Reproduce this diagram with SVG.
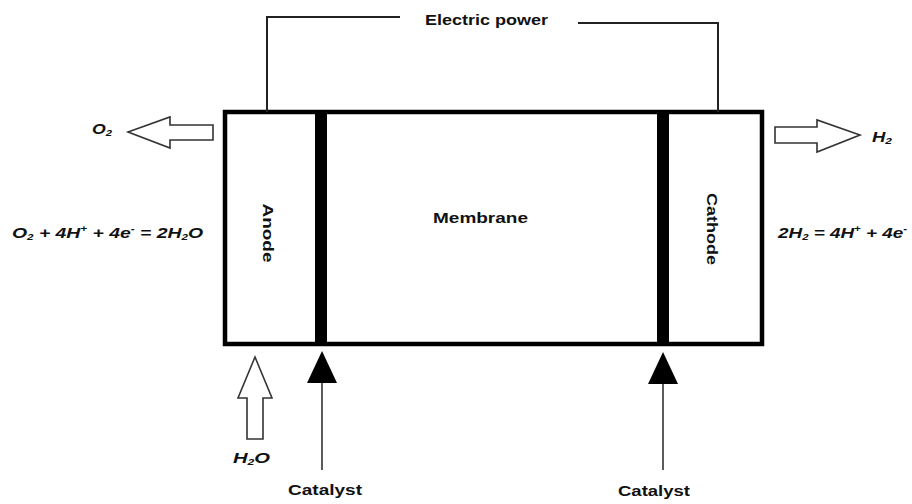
<svg xmlns="http://www.w3.org/2000/svg" width="912" height="504" viewBox="0 0 912 504">
<defs>
<style>
.t{font-family:"Liberation Sans",Arial,sans-serif;font-weight:bold;fill:#111;}
.i{font-style:italic;}
.w{fill:none;stroke:#222;stroke-width:2;}
.h{fill:#fff;stroke:#333;stroke-width:1.6;stroke-linejoin:miter;}
.c{fill:none;stroke:#333;stroke-width:1.6;}
.sub{font-size:9px;}
</style>
</defs>
<rect width="912" height="504" fill="#fff"/>
<g id="cell">
<rect x="225" y="112" width="537" height="232" fill="#fff" stroke="#000" stroke-width="4.5"/>
</g>
<g id="anode">
<text class="t" font-size="15" transform="translate(268,233) rotate(90)" x="0" y="5.5" text-anchor="middle" textLength="59" lengthAdjust="spacingAndGlyphs">Anode</text>
</g>
<g id="anode-catalyst-layer">
<rect x="315" y="112" width="12" height="232" fill="#000"/>
</g>
<g id="membrane">
<text class="t" font-size="15" x="433" y="223" textLength="95" lengthAdjust="spacingAndGlyphs">Membrane</text>
</g>
<g id="cathode-catalyst-layer">
<rect x="657" y="112" width="12" height="232" fill="#000"/>
</g>
<g id="cathode">
<text class="t" font-size="15" transform="translate(712,229) rotate(90)" x="0" y="5.5" text-anchor="middle" textLength="72" lengthAdjust="spacingAndGlyphs">Cathode</text>
</g>
<g id="electric-power">
<text class="t" font-size="15" x="425" y="25" textLength="123" lengthAdjust="spacingAndGlyphs">Electric power</text>
</g>
<g id="o2-label">
<text class="t i" font-size="14" x="92" y="134" textLength="20" lengthAdjust="spacingAndGlyphs">O<tspan class="sub" dy="2">2</tspan></text>
</g>
<g id="anode-equation">
<text class="t i" font-size="15" x="12" y="238" textLength="191" lengthAdjust="spacingAndGlyphs">O<tspan class="sub" dy="2">2</tspan><tspan dy="-2"> + 4H</tspan><tspan class="sub" dy="-6">+</tspan><tspan dy="6"> + 4e</tspan><tspan class="sub" dy="-6">-</tspan><tspan dy="6"> = 2H</tspan><tspan class="sub" dy="2">2</tspan><tspan dy="-2">O</tspan></text>
</g>
<g id="h2-label">
<text class="t i" font-size="14" x="872" y="142" textLength="20" lengthAdjust="spacingAndGlyphs">H<tspan class="sub" dy="2">2</tspan></text>
</g>
<g id="cathode-equation">
<text class="t i" font-size="15" x="778" y="238" textLength="129" lengthAdjust="spacingAndGlyphs">2H<tspan class="sub" dy="2">2</tspan><tspan dy="-2"> = 4H</tspan><tspan class="sub" dy="-6">+</tspan><tspan dy="6"> + 4e</tspan><tspan class="sub" dy="-6">-</tspan></text>
</g>
<g id="h2o-label">
<text class="t i" font-size="15" x="233" y="463" textLength="37" lengthAdjust="spacingAndGlyphs">H<tspan class="sub" dy="2">2</tspan><tspan dy="-2">O</tspan></text>
</g>
<g id="catalyst-left">
<text class="t" font-size="15" x="288" y="495" textLength="74" lengthAdjust="spacingAndGlyphs">Catalyst</text>
</g>
<g id="catalyst-right">
<text class="t" font-size="15" x="618" y="496" textLength="72" lengthAdjust="spacingAndGlyphs">Catalyst</text>
</g>
<g id="connectors">
<polyline class="w" points="267,112 267,17 400,17"/>
<polyline class="w" points="578,23 718,23 718,112"/>
<polygon class="h" points="213,125 170,125 170,117 128,132 170,148 170,140 213,140"/>
<polygon class="h" points="775,127 817,127 817,120 860,135 817,152 817,143 775,143"/>
<polygon class="h" points="247,439 247,398 238,398 255,357 272,398 263,398 263,439"/>
<line class="c" x1="322" y1="380" x2="322" y2="470"/>
<polygon points="322,351 307,383 337,383" fill="#000"/>
<line class="c" x1="663" y1="380" x2="663" y2="470"/>
<polygon points="663,352 648,384 678,384" fill="#000"/>
</g>
</svg>
